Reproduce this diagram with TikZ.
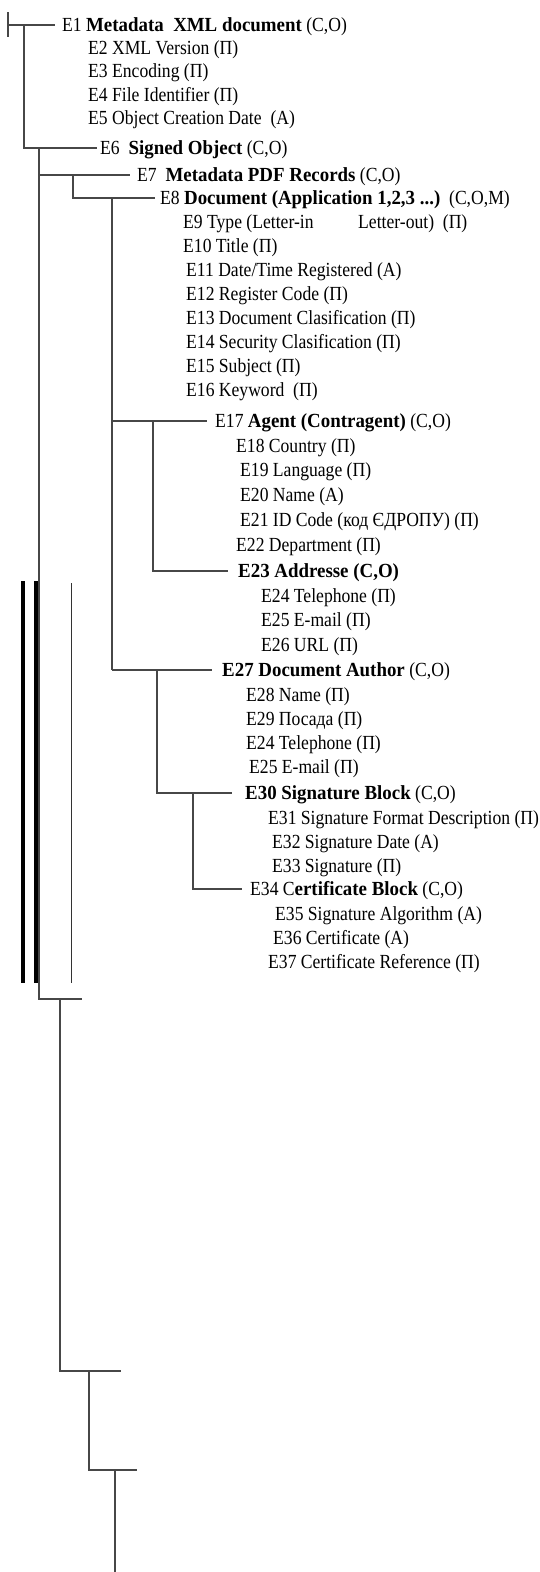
\documentclass[tikz,border=0pt]{standalone}
\usepackage{fontspec}
\setmainfont{Liberation Serif}[FakeStretch=0.88,BoldFeatures={FakeStretch=0.945}]
\begin{document}
\begin{tikzpicture}[x=1pt,y=-1pt,
  lbl/.style={anchor=base west,inner sep=0pt,yshift=-6.5pt,font=\fontsize{20}{24}\selectfont},
  tree/.style={draw=black!72,line width=1.1pt},
  bar/.style={draw=black,line width=4pt},
  thin/.style={draw=black!80,line width=1pt}]
\useasboundingbox (0,0) rectangle (539,1572);
% labels
\node[lbl] (e1) at (62,25) {E1 \textbf{Metadata\ \ XML document} (C,O)};
\node[lbl] (e2) at (88,48) {E2 XML Version (П)};
\node[lbl] (e3) at (88,71) {E3 Encoding (П)};
\node[lbl] (e4) at (88,95) {E4 File Identifier (П)};
\node[lbl] (e5) at (88,118) {E5 Object Creation Date\ \ (A)};
\node[lbl] (e6) at (100,148) {E6\ \ \textbf{Signed Object} (C,O)};
\node[lbl] (e7) at (137,175) {E7\ \ \textbf{Metadata PDF Records} (C,O)};
\node[lbl] (e8) at (160,198) {E8 \textbf{Document (Application 1,2,3 ...)}\ \ (C,O,M)};
\node[lbl] (e9) at (183,222) {\makebox[175pt][l]{E9 Type (Letter-in}Letter-out)\ \ (П)};
\node[lbl] (e10) at (183,246) {E10 Title (П)};
\node[lbl] (e11) at (186,270) {E11 Date/Time Registered (A)};
\node[lbl] (e12) at (186,294) {E12 Register Code (П)};
\node[lbl] (e13) at (186,318) {E13 Document Clasification (П)};
\node[lbl] (e14) at (186,342) {E14 Security Clasification (П)};
\node[lbl] (e15) at (186,366) {E15 Subject (П)};
\node[lbl] (e16) at (186,390) {E16 Keyword\ \ (П)};
\node[lbl] (e17) at (215,421) {E17 \textbf{Agent (Contragent)} (C,O)};
\node[lbl] (e18) at (236,446) {E18 Country (П)};
\node[lbl] (e19) at (240,470) {E19 Language (П)};
\node[lbl] (e20) at (240,495) {E20 Name (A)};
\node[lbl] (e21) at (240,520) {E21 ID Code (код ЄДРОПУ) (П)};
\node[lbl] (e22) at (236,545) {E22 Department (П)};
\node[lbl] (e23) at (238,571) {\textbf{E23 Addresse (C,O)}};
\node[lbl] (e24) at (261,596) {E24 Telephone (П)};
\node[lbl] (e25) at (261,620) {E25 E-mail (П)};
\node[lbl] (e26) at (261,645) {E26 URL (П)};
\node[lbl] (e27) at (222,670) {\textbf{E27 Document Author} (C,O)};
\node[lbl] (e28) at (246,695) {E28 Name (П)};
\node[lbl] (e29) at (246,719) {E29 Посада (П)};
\node[lbl] (e24b) at (246,743) {E24 Telephone (П)};
\node[lbl] (e25b) at (249,767) {E25 E-mail (П)};
\node[lbl] (e30) at (245,793) {\textbf{E30 Signature Block} (C,O)};
\node[lbl] (e31) at (268,818) {E31 Signature Format Description (П)};
\node[lbl] (e32) at (272,842) {E32 Signature Date (A)};
\node[lbl] (e33) at (272,866) {E33 Signature (П)};
\node[lbl] (e34) at (250,889) {E34 C\textbf{ertificate Block} (C,O)};
\node[lbl] (e35) at (275,914) {E35 Signature Algorithm (A)};
\node[lbl] (e36) at (273,938) {E36 Certificate (A)};
\node[lbl] (e37) at (268,962) {E37 Certificate Reference (П)};
% junction coordinates
\coordinate (r0) at (8,12);
\coordinate (r1) at (8,37);
\coordinate (r2) at (8,25);
\coordinate (j1) at (24,25);
\coordinate (j6) at (24,148);
\coordinate (k0) at (39,148);
\coordinate (k7) at (39,175);
\coordinate (kend) at (39,999);
\coordinate (m7) at (73,175);
\coordinate (m8) at (73,198);
\coordinate (n8) at (112,198);
\coordinate (n17) at (112,421);
\coordinate (n27) at (112,670);
\coordinate (p17) at (153,421);
\coordinate (p23) at (153,571);
\coordinate (q27) at (157,670);
\coordinate (q30) at (157,793);
\coordinate (s30) at (193,793);
\coordinate (s34) at (193,889);
\coordinate (b1) at (82,999);
\coordinate (u0) at (60,999);
\coordinate (u1) at (60,1371);
\coordinate (b2) at (121,1371);
\coordinate (v0) at (89,1371);
\coordinate (v1) at (89,1470);
\coordinate (b3) at (137,1470);
\coordinate (w0) at (115,1470);
\coordinate (w1) at (115,1572);
\coordinate (t1a) at (23,581);
\coordinate (t1b) at (23,983);
\coordinate (t2a) at (36,581);
\coordinate (t2b) at (36,983);
\coordinate (t3a) at (71,583);
\coordinate (t3b) at (71,983);
% tree connectors
\draw[tree] (r0) -- (r1);
\draw[tree,shorten >=7pt] (r2) -- (r2 -| e1.west);
\draw[tree,shorten >=3pt] (j1) -- (j6) -- (j6 -| e6.west);
\draw[tree] (k0) -- (kend) -- (b1);
\draw[tree,shorten >=7pt] (k7) -- (k7 -| e7.west);
\draw[tree,shorten >=5pt] (m7) -- (m8) -- (m8 -| e8.west);
\draw[tree] (n8) -- (n27);
\draw[tree,shorten >=8pt] (n17) -- (n17 -| e17.west);
\draw[tree,shorten >=10pt] (p17) -- (p23) -- (p23 -| e23.west);
\draw[tree,shorten >=10pt] (n27) -- (n27 -| e27.west);
\draw[tree,shorten >=13pt] (q27) -- (q30) -- (q30 -| e30.west);
\draw[tree,shorten >=8pt] (s30) -- (s34) -- (s34 -| e34.west);
\draw[tree] (u0) -- (u1) -- (b2);
\draw[tree] (v0) -- (v1) -- (b3);
\draw[tree] (w0) -- (w1);
% vertical bars
\draw[bar] (t1a) -- (t1b);
\draw[bar] (t2a) -- (t2b);
\draw[thin] (t3a) -- (t3b);
\end{tikzpicture}
\end{document}
